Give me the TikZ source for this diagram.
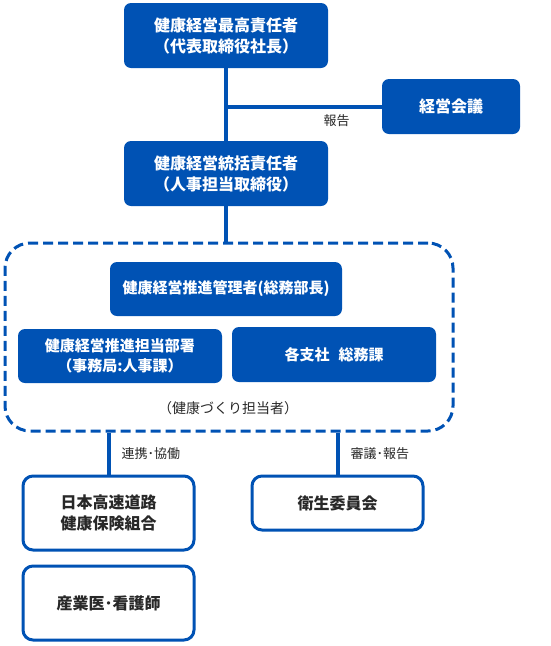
\documentclass[tikz,border=0pt]{standalone}
\usepackage{fontspec}
\setmainfont{Noto Sans CJK JP}
\definecolor{kblue}{RGB}{0,82,180}
\definecolor{ktext}{RGB}{40,40,40}
\tikzset{
  every edge/.style={draw=kblue,line width=4pt},
  solid box/.style={fill=kblue,text=white,rounded corners=7pt,font=\bfseries,align=center,inner sep=0pt},
  open box/.style={draw=kblue,fill=white,line width=3pt,rounded corners=10pt,text=ktext,font=\bfseries,align=center,inner sep=0pt},
  tag/.style={text=ktext,font=\fontsize{13}{15}\selectfont,inner sep=1pt},
}
\begin{document}
\begin{tikzpicture}[x=1pt,y=-1pt]
    \useasboundingbox (0,0) rectangle (550,646);
    \node[draw=kblue,line width=3pt,dash pattern=on 10pt off 5pt,rounded corners=25pt,
          minimum width=448pt,minimum height=188pt] (G) at (229,337) {};
    \node[solid box,minimum width=204pt,minimum height=65pt,font=\bfseries\fontsize{16}{21}\selectfont] (CHO) at (226,35.5) {健康経営最高責任者\\（代表取締役社長）};
    \node[solid box,minimum width=138pt,minimum height=55pt,font=\bfseries\fontsize{16}{21}\selectfont] (MTG) at (451,106.5) {経営会議};
    \node[solid box,minimum width=204pt,minimum height=65pt,font=\bfseries\fontsize{16}{21}\selectfont] (CO) at (226,173.5) {健康経営統括責任者\\（人事担当取締役）};
    \node[solid box,minimum width=232pt,minimum height=54pt,font=\bfseries\fontsize{15}{20}\selectfont] (MGR) at (226,289) {健康経営推進管理者(総務部長)};
    \node[solid box,minimum width=204pt,minimum height=54pt,font=\bfseries\fontsize{15}{20}\selectfont] (DEPT) at (120,356) {健康経営推進担当部署\\（事務局:人事課）};
    \node[solid box,minimum width=204pt,minimum height=55pt,font=\bfseries\fontsize{15}{20}\selectfont] (BR) at (334,354.5) {各支社\hspace{0.6em}総務課};
    \node[tag,font=\fontsize{14}{16}\selectfont] (STAFF) at (228,408) {（健康づくり担当者）};
    \node[open box,minimum width=171pt,minimum height=74pt,font=\bfseries\fontsize{16}{21}\selectfont] (HI) at (108.5,513) {日本高速道路\\健康保険組合};
    \node[open box,minimum width=171pt,minimum height=54pt,font=\bfseries\fontsize{16}{21}\selectfont] (SC) at (337.5,503) {衛生委員会};
    \node[open box,minimum width=171pt,minimum height=74pt,font=\bfseries\fontsize{16}{21}\selectfont] (DR) at (108.5,603) {産業医･看護師};
    \path (CHO.south) edge (CO.north);
    \path (CHO.south |- MTG.west) edge node[tag,pos=0.71,below=5pt] {報告} (MTG.west);
    \path (CO.south) edge (CO.south |- G.north);
    \path (HI.north |- G.south) edge node[tag,right=10pt] {連携･協働} (HI.north);
    \path (SC.north |- G.south) edge node[tag,right=10pt] {審議･報告} (SC.north);
  \end{tikzpicture}
\end{document}
